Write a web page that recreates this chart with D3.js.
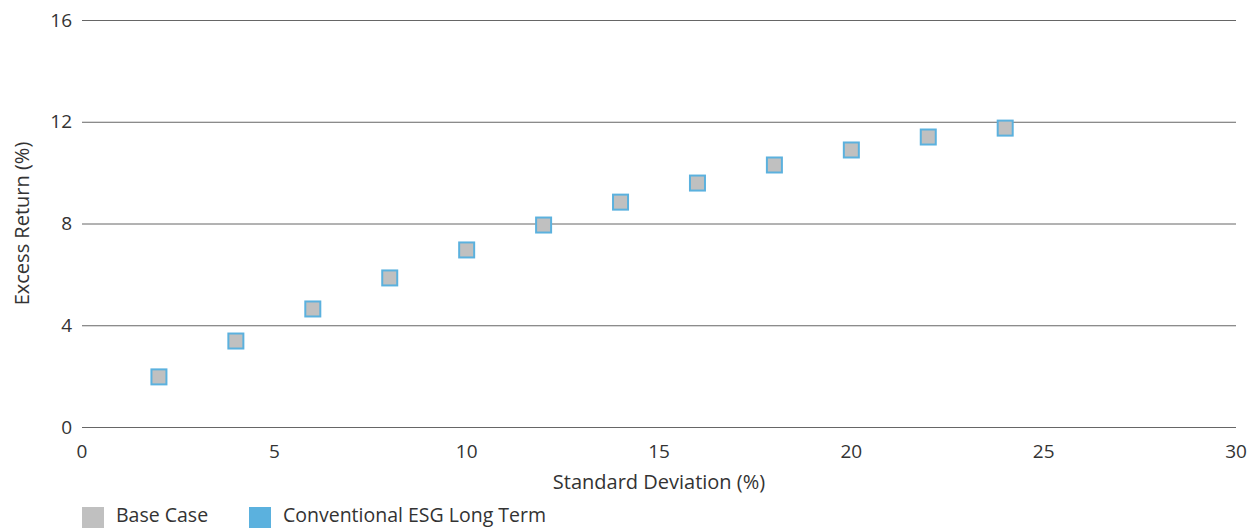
<!DOCTYPE html>
<html><head><meta charset="utf-8">
<script src="https://cdn.jsdelivr.net/npm/d3@7"></script>
<style>body{margin:0;background:#fff}text{font-family:"Open Sans","Noto Sans",sans-serif;fill:#333}</style>
</head><body>
<svg id="c" width="1249" height="528"></svg>
<script>
const stdDev = [2,4,6,8,10,12,14,16,18,20,22,24];
const baseCase = [1.97,3.38,4.64,5.86,6.96,7.94,8.84,9.59,10.30,10.89,11.40,11.75];
const esgLongTerm = [1.97,3.38,4.64,5.86,6.96,7.94,8.84,9.59,10.30,10.89,11.40,11.75];
const xTicks = [0,5,10,15,20,25,30];
const yTicks = [0,4,8,12,16];
const seriesNames = ["Base Case","Conventional ESG Long Term"];
const colors = {gray:"#c0c0c0", blue:"#5bb1de"};

const svg = d3.select("#c");
const x = d3.scaleLinear().domain([0,30]).range([82,1236]);
const y = d3.scaleLinear().domain([0,16]).range([427,20]);

svg.append("g").selectAll("line").data(yTicks).join("line")
  .attr("x1",x(0)).attr("x2",x(30)).attr("y1",d=>y(d)+0.5).attr("y2",d=>y(d)+0.5)
  .attr("stroke","#666").attr("stroke-width",1);

svg.append("g").selectAll("text").data(yTicks).join("text")
  .attr("x",72).attr("y",d=>y(d)).attr("dy","0.35em").attr("text-anchor","end")
  .attr("font-size",19).text(d=>d);
svg.append("g").selectAll("text").data(xTicks).join("text")
  .attr("x",d=>x(d)).attr("y",458).attr("text-anchor","middle")
  .attr("font-size",19).text(d=>d);

svg.append("text").attr("x",659).attr("y",489).attr("text-anchor","middle").attr("font-size",20).text("Standard Deviation (%)");
svg.append("text").attr("transform","translate(29,"+y(8)+") rotate(-90)").attr("text-anchor","middle").attr("font-size",20).text("Excess Return (%)");

const pts = stdDev.map((d,i)=>({x:d,b:baseCase[i],e:esgLongTerm[i]}));
svg.append("g").selectAll("rect").data(pts).join("rect")
  .attr("x",d=>x(d.x)-8.5).attr("y",d=>y(d.e)-8.5).attr("width",17).attr("height",17)
  .attr("fill",colors.blue);
svg.append("g").selectAll("rect").data(pts).join("rect")
  .attr("x",d=>x(d.x)-6.5).attr("y",d=>y(d.b)-6.5).attr("width",13).attr("height",13)
  .attr("fill",colors.gray);

const lg = svg.append("g");
const lx = [82,249];
lg.selectAll("rect").data(seriesNames).join("rect")
  .attr("x",(d,i)=>lx[i]).attr("y",507).attr("width",22).attr("height",22)
  .attr("fill",(d,i)=>i===0?colors.gray:colors.blue);
lg.selectAll("text").data(seriesNames).join("text")
  .attr("x",(d,i)=>lx[i]+34).attr("y",522).attr("font-size",19.5).text(d=>d);
</script>
</body></html>
